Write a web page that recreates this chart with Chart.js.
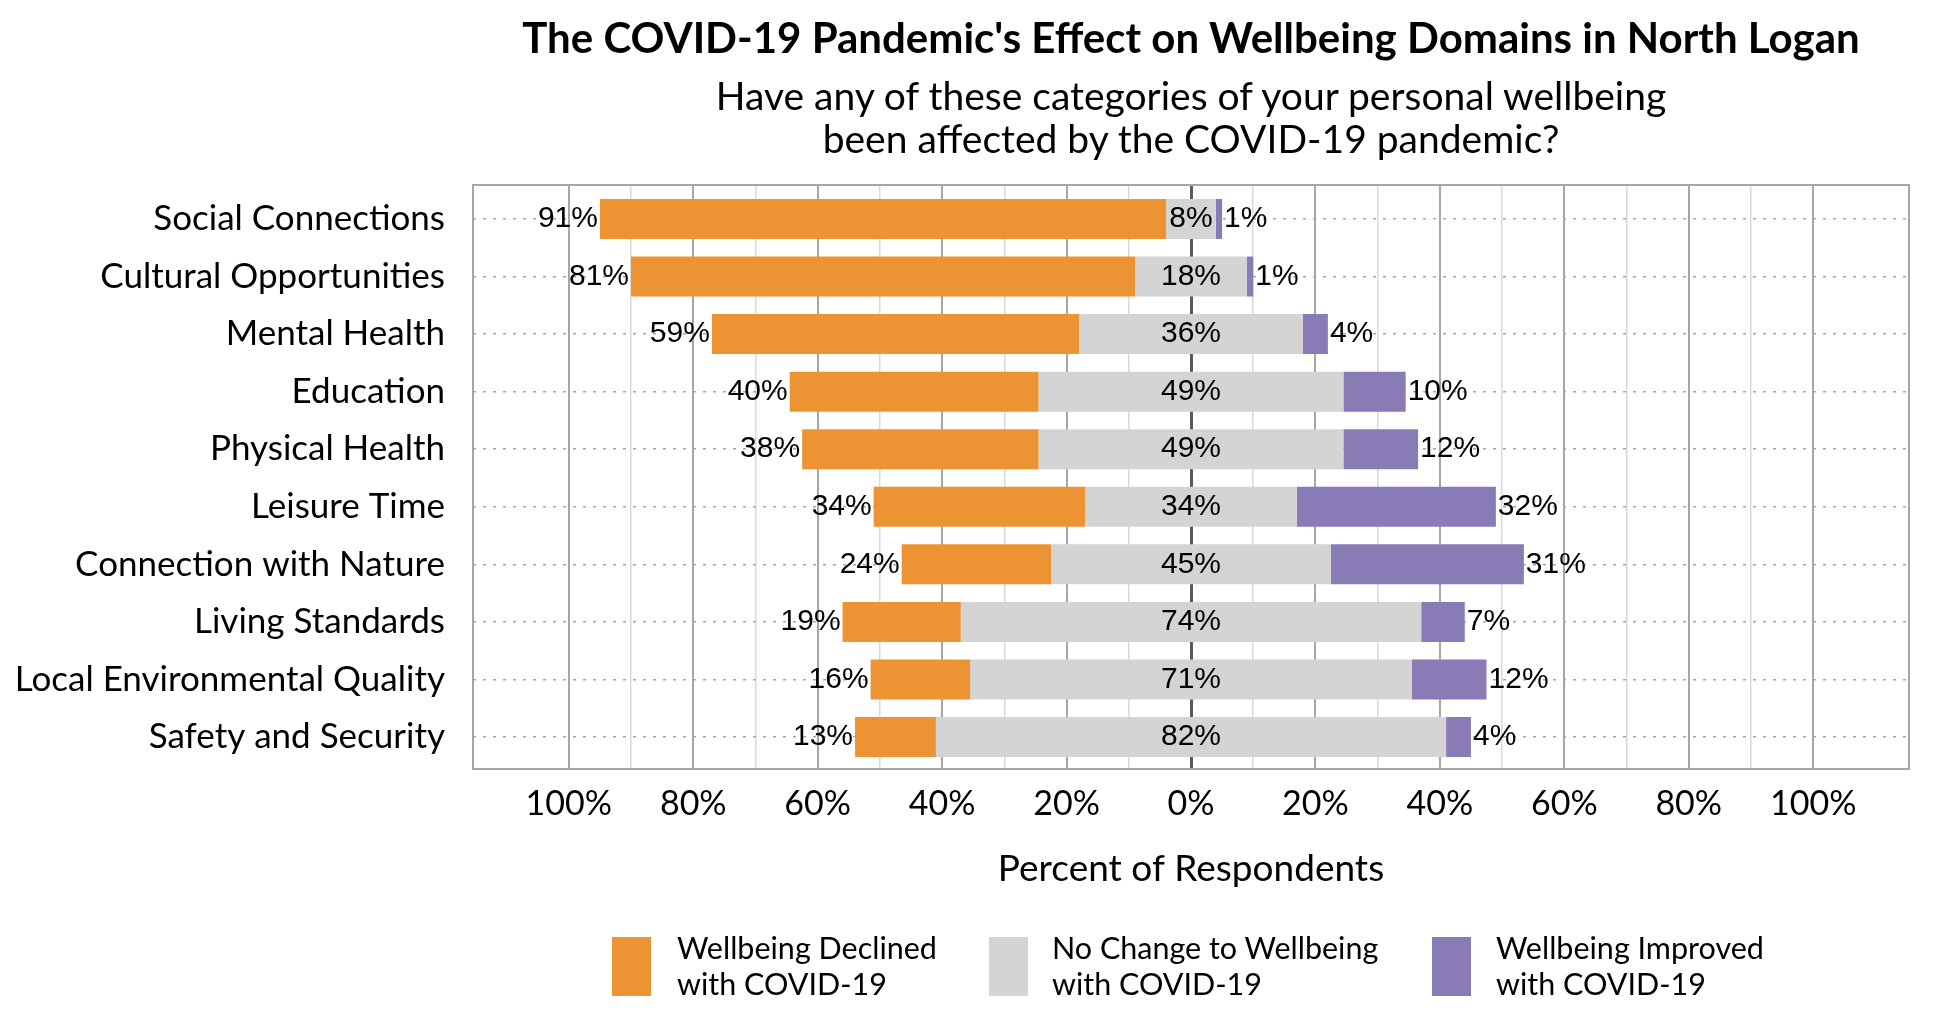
<!DOCTYPE html>
<html>
<head>
<meta charset="utf-8">
<script src="https://cdn.jsdelivr.net/npm/chart.js"></script>
<style>
  body { margin: 0; background: #fff; }
  #page { position: relative; width: 1950px; height: 1020px; overflow: hidden; font-family: Lato, sans-serif; color: #000; }
  #chartBox { position: absolute; left: 0; top: 0; width: 1950px; height: 1020px; }
  .head { position: absolute; left: 1191px; transform: translateX(-50%); white-space: nowrap; text-align: center; }
  #title { top: 16px; font-size: 42px; line-height: 42px; font-weight: bold; }
  #subtitle { top: 74px; font-size: 39px; line-height: 43px; }
  .key { position: absolute; top: 937px; width: 39px; height: 59px; }
  .keyText { position: absolute; top: 929px; font-size: 30.5px; line-height: 36px; white-space: nowrap; }
</style>
</head>
<body>
<div id="page">
  <div id="chartBox"><canvas id="wellbeingChart"></canvas></div>
  <div id="title" class="head">The COVID-19 Pandemic's Effect on Wellbeing Domains in North Logan</div>
  <div id="subtitle" class="head">Have any of these categories of your personal wellbeing<br>been affected by the COVID-19 pandemic?</div>
  <div id="legend"></div>
</div>
<script>
const categories = ['Social Connections', 'Cultural Opportunities', 'Mental Health', 'Education', 'Physical Health',
  'Leisure Time', 'Connection with Nature', 'Living Standards', 'Local Environmental Quality', 'Safety and Security'];
const declined = [91, 81, 59, 40, 38, 34, 24, 19, 16, 13];
const noChange = [8, 18, 36, 49, 49, 34, 45, 74, 71, 82];
const improved = [1, 1, 4, 10, 12, 32, 31, 7, 12, 4];
const seriesNames = [['Wellbeing Declined', 'with COVID-19'], ['No Change to Wellbeing', 'with COVID-19'], ['Wellbeing Improved', 'with COVID-19']];
const seriesColors = ['#EC9434', '#D4D4D4', '#897BB6'];
const xTicks = [-100, -90, -80, -70, -60, -50, -40, -30, -20, -10, 0, 10, 20, 30, 40, 50, 60, 70, 80, 90, 100];

// "no change" is split evenly around zero, declined goes left of it, improved goes right
const declinedBars = declined.map((v, i) => ({ x: [-(noChange[i] / 2 + v), -noChange[i] / 2], y: i }));
const noChangeBars = noChange.map((v, i) => ({ x: [-v / 2, v / 2], y: i }));
const improvedBars = improved.map((v, i) => ({ x: [noChange[i] / 2, noChange[i] / 2 + v], y: i }));
const labelValues = [declined, noChange, improved];

// legend as html so the labels can wrap on two lines
const keyPos = [[612, 677], [989, 1052], [1432, 1496]];
let legendHtml = '';
seriesNames.forEach((name, i) => {
  legendHtml += '<div class="key" style="left:' + keyPos[i][0] + 'px;background:' + seriesColors[i] + '"></div>';
  legendHtml += '<div class="keyText" style="left:' + keyPos[i][1] + 'px">' + name.join('<br>') + '</div>';
});
document.getElementById('legend').innerHTML = legendHtml;

const frame = {
  id: 'frame',
  beforeDatasetsDraw(chart) {
    const a = chart.chartArea, ctx = chart.ctx;
    ctx.save();
    ctx.strokeStyle = '#A6A6A6';
    ctx.lineWidth = 2;
    ctx.strokeRect(a.left, a.top, a.right - a.left, a.bottom - a.top);
    ctx.restore();
  }
};

const barLabels = {
  id: 'barLabels',
  afterDatasetsDraw(chart) {
    const ctx = chart.ctx;
    const zero = chart.scales.x.getPixelForValue(0);
    ctx.save();
    ctx.font = '30px "Liberation Sans", Arial, sans-serif';
    ctx.fillStyle = '#000';
    ctx.textBaseline = 'middle';
    chart.data.datasets.forEach((ds, d) => {
      chart.getDatasetMeta(d).data.forEach((bar, i) => {
        const txt = labelValues[d][i] + '%';
        const lo = Math.min(bar.x, bar.base), hi = Math.max(bar.x, bar.base);
        if (d == 0) { ctx.textAlign = 'right'; ctx.fillText(txt, lo - 2, bar.y); }
        else if (d == 1) { ctx.textAlign = 'center'; ctx.fillText(txt, zero, bar.y); }
        else { ctx.textAlign = 'left'; ctx.fillText(txt, hi + 2, bar.y); }
      });
    });
    ctx.restore();
  }
};

const barStyle = { borderWidth: 0, barPercentage: 0.695, categoryPercentage: 1, grouped: false };

new Chart('wellbeingChart', {
  type: 'bar',
  data: {
    datasets: [
      Object.assign({ label: seriesNames[0].join(' '), data: declinedBars, backgroundColor: seriesColors[0] }, barStyle),
      Object.assign({ label: seriesNames[1].join(' '), data: noChangeBars, backgroundColor: seriesColors[1] }, barStyle),
      Object.assign({ label: seriesNames[2].join(' '), data: improvedBars, backgroundColor: seriesColors[2] }, barStyle)
    ]
  },
  options: {
    indexAxis: 'y',
    responsive: true,
    maintainAspectRatio: false,
    animation: false,
    layout: { padding: { top: 185, right: 41, bottom: 121, left: 0 } },
    plugins: { legend: { display: false }, tooltip: { enabled: false } },
    scales: {
      x: {
        min: -115.4,
        max: 115.4,
        afterBuildTicks: scale => { scale.ticks = xTicks.map(v => ({ value: v })); },
        afterFit: scale => { scale.height = 130; },
        ticks: {
          autoSkip: false,
          maxRotation: 0,
          padding: 15,
          color: '#000',
          font: { family: 'Lato', size: 34 },
          callback: v => (v % 20 == 0 ? Math.abs(v) + '%' : '')
        },
        grid: {
          drawTicks: false,
          color: c => (c.tick.value == 0 ? '#595959' : c.tick.value % 20 == 0 ? '#A6A6A6' : '#D9D9D9'),
          lineWidth: c => (c.tick.value == 0 ? 3 : c.tick.value % 20 == 0 ? 2 : 1.5)
        },
        border: { display: false },
        title: {
          display: true,
          text: 'Percent of Respondents',
          color: '#000',
          font: { family: 'Lato', size: 37 },
          padding: { top: 0, bottom: 8 }
        }
      },
      y: {
        type: 'linear',
        reverse: true,
        offset: false,
        min: -0.59,
        max: 9.556,
        afterBuildTicks: scale => { scale.ticks = categories.map((c, i) => ({ value: i })); },
        afterFit: scale => { scale.width = 473; },
        ticks: {
          autoSkip: false,
          padding: 28,
          color: '#000',
          font: { family: 'Lato', size: 35 },
          callback: v => categories[v]
        },
        grid: { offset: false, drawTicks: false, color: '#A6A6A6', lineWidth: 1.5 },
        border: { display: false, dash: [3, 7] }
      }
    }
  },
  plugins: [frame, barLabels]
});
</script>
</body>
</html>
